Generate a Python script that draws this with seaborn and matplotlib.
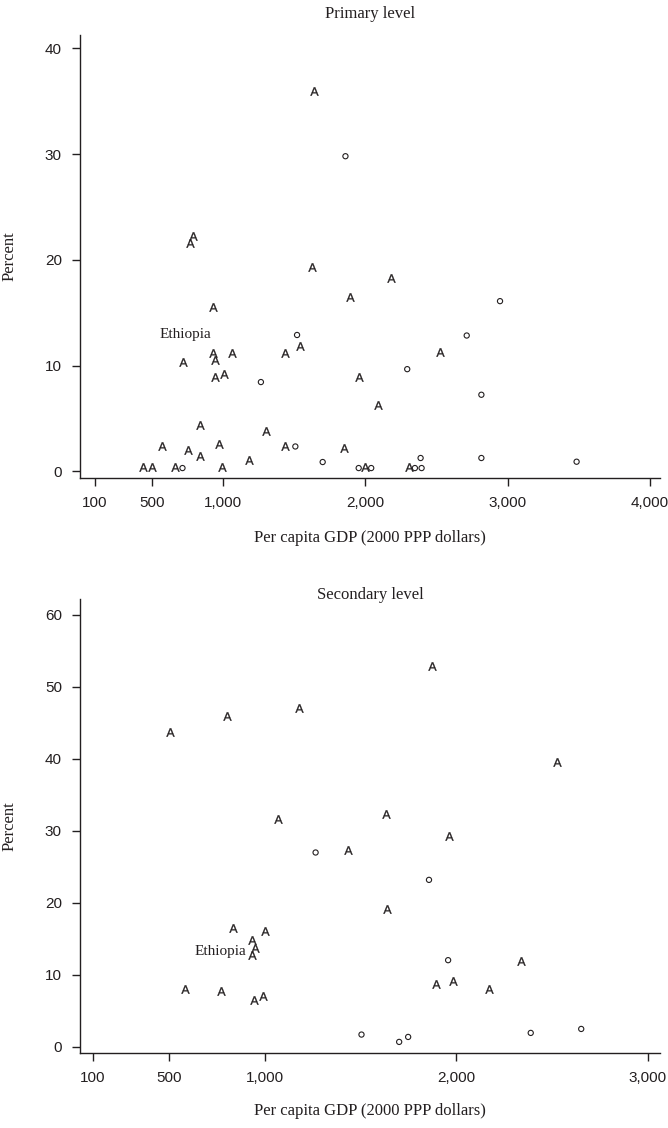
import matplotlib
matplotlib.use("Agg")
import matplotlib.pyplot as plt
import seaborn as sns
import pandas as pd

# ---------------- data ----------------
# Primary level: countries marked "A"
prim_A_gdp = [1640, 790, 769, 1628, 2181, 1895, 929, 1538, 929, 945, 1064, 1433,
              2524, 722, 940, 1006, 1956, 2090, 839, 1302, 572, 753, 975, 1433,
              1853, 839, 1184, 440, 499, 663, 992, 1996, 2306]
prim_A_pct = [36.0, 22.3, 21.6, 19.3, 18.3, 16.5, 15.5, 11.9, 11.2, 10.55, 11.2, 11.2,
              11.3, 10.3, 8.9, 9.2, 8.97, 6.3, 4.35, 3.8, 2.36, 1.98, 2.55, 2.36,
              2.2, 1.42, 1.1, 0.42, 0.42, 0.42, 0.42, 0.38, 0.38]
# Primary level: countries marked "o"
prim_o_gdp = [1860, 2946, 1520, 2712, 2294, 1266, 2815, 1508, 1700, 2388, 2815, 3484,
              715, 1953, 2041, 2348, 2395]
prim_o_pct = [29.8, 16.1, 12.9, 12.85, 9.67, 8.45, 7.25, 2.36, 0.89, 1.27, 1.27, 0.92,
              0.32, 0.32, 0.32, 0.32, 0.32]

# Secondary level: countries marked "A"
sec_A_gdp = [1873, 1179, 801, 503, 2526, 1630, 1960, 1067, 1431, 1640, 2336, 1894,
             1985, 2171, 834, 1001, 933, 947, 933, 582, 770, 944, 991]
sec_A_pct = [52.9, 47.0, 45.9, 43.8, 39.6, 32.4, 29.3, 31.7, 27.4, 19.1, 11.9, 8.8,
             9.13, 7.98, 16.5, 16.1, 14.8, 13.8, 12.8, 7.98, 7.74, 6.5, 7.1]
# Secondary level: countries marked "o"
sec_o_gdp = [1264, 1857, 1957, 1504, 1701, 1748, 2389, 2653]
sec_o_pct = [27.0, 23.2, 12.05, 1.72, 0.7, 1.39, 1.95, 2.5]

titles = ["Primary level", "Secondary level"]
xlabel = "Per capita GDP (2000 PPP dollars)"
ylabel = "Percent"
label_text = "Ethiopia"
eth_prim = (736, 12.97)
eth_sec = (904, 13.3)
prim_xticks = [100, 500, 1000, 2000, 3000, 4000]
sec_xticks = [100, 500, 1000, 2000, 3000]
prim_yticks = [0, 10, 20, 30, 40]
sec_yticks = [0, 10, 20, 30, 40, 50, 60]

# ---------------- style ----------------
sns.set_theme(style="ticks")
INK = "#231f20"
plt.rcParams["font.family"] = ["Liberation Sans", "DejaVu Sans"]
plt.rcParams["mathtext.fontset"] = "custom"
plt.rcParams["mathtext.rm"] = "Liberation Sans"
plt.rcParams["mathtext.sf"] = "Liberation Sans"
SERIF = ["Liberation Serif", "DejaVu Serif"]

W, H = 668, 1128
fig = plt.figure(figsize=(W / 100, H / 100), dpi=100)


def px_axes(left, top, right, bottom):
    return fig.add_axes([left / W, 1 - bottom / H, (right - left) / W, (bottom - top) / H])


ax1 = px_axes(80, 35, 660, 478)
ax2 = px_axes(80, 599, 660, 1053)

A_MARK = r"$\mathrm{A}$"


def draw(ax, a_gdp, a_pct, o_gdp, o_pct):
    dfa = pd.DataFrame({"gdp": a_gdp, "pct": a_pct})
    dfo = pd.DataFrame({"gdp": o_gdp, "pct": o_pct})
    sns.scatterplot(data=dfa, x="gdp", y="pct", ax=ax, marker=A_MARK, s=36,
                    color=INK, edgecolor=INK, linewidth=0.25, legend=False)
    sns.scatterplot(data=dfo, x="gdp", y="pct", ax=ax, marker="o", s=14,
                    facecolors="none", edgecolor=INK, linewidth=0.8, legend=False)


draw(ax1, prim_A_gdp, prim_A_pct, prim_o_gdp, prim_o_pct)
draw(ax2, sec_A_gdp, sec_A_pct, sec_o_gdp, sec_o_pct)

ax1.set_xlim(-5, 4070)
ax1.set_ylim(-0.62, 41.26)
ax2.set_xlim(32, 3065)
ax2.set_ylim(-0.84, 62.2)

for ax, xt, yt in [(ax1, prim_xticks, prim_yticks), (ax2, sec_xticks, sec_yticks)]:
    ax.set_xticks(xt)
    ax.set_xticklabels([f"{v:,}" for v in xt])
    ax.set_yticks(yt)
    ax.set_yticklabels([str(v) for v in yt])
    sns.despine(ax=ax)
    for s in ["left", "bottom"]:
        ax.spines[s].set_linewidth(1.0)
        ax.spines[s].set_color(INK)
    ax.tick_params(axis="both", direction="out", length=6, width=1.0, color=INK,
                   labelsize=11, labelcolor=INK, pad=7)
    ax.set_xlabel(xlabel, fontfamily=SERIF, fontsize=12, color=INK)
    ax.set_ylabel(ylabel, fontfamily=SERIF, fontsize=12, color=INK)
    ax.yaxis.set_label_coords(-0.107, 0.5)
    ax.set_facecolor("white")

ax1.xaxis.set_label_coords(0.5, -0.117)
ax2.xaxis.set_label_coords(0.5, -0.110)

ax1.text(eth_prim[0], eth_prim[1], label_text, fontfamily=SERIF, fontsize=11,
         color=INK, ha="center", va="center")
ax2.text(eth_sec[0], eth_sec[1], label_text, fontfamily=SERIF, fontsize=11,
         color=INK, ha="right", va="center")

fig.text(370 / W, 1 - 14 / H, titles[0], fontfamily=SERIF, fontsize=12, color=INK,
         ha="center", va="center")
fig.text(370 / W, 1 - 595 / H, titles[1], fontfamily=SERIF, fontsize=12, color=INK,
         ha="center", va="center")

fig.savefig("out.png", dpi=100, facecolor="white")
